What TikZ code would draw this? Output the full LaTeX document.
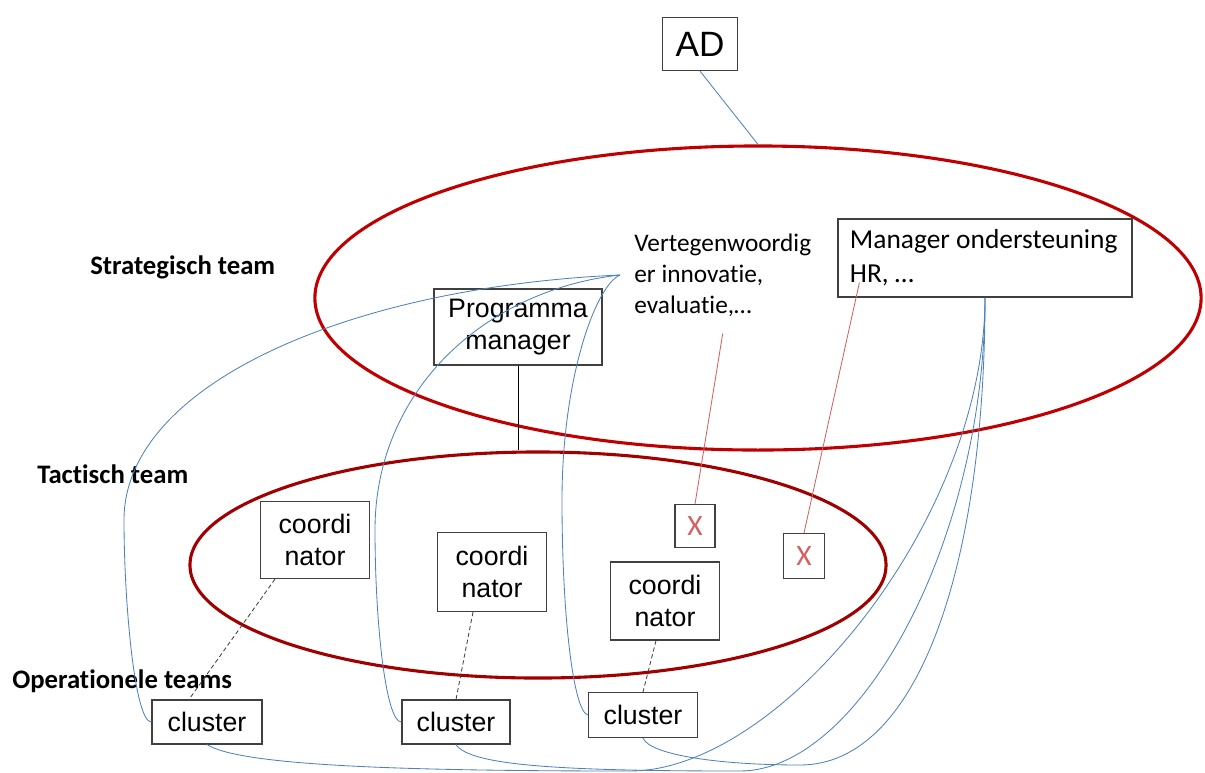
\documentclass[tikz,border=0pt]{standalone}
\usepackage{fontspec}
\setmainfont{Liberation Sans}
\newfontfamily\calibri[Ligatures=NoCommon]{Carlito}
\usetikzlibrary{shapes.geometric,calc}
\definecolor{linkblue}{RGB}{79,129,189}
\definecolor{stratred}{RGB}{192,0,0}
\definecolor{tactred}{RGB}{160,0,0}
\definecolor{thinred}{RGB}{214,96,96}
\begin{document}
\begin{tikzpicture}[x=0.025cm, y=-0.025cm,
    box/.style ={draw=black!75, line width=0.8pt, inner sep=0pt, align=center, font=\fontsize{19}{23}\selectfont},
    team/.style ={ellipse, draw, line width=2.2pt, inner sep=0pt},
    teamname/.style ={anchor=west, inner sep=0pt, font=\calibri\bfseries\fontsize{19}{23}\selectfont},
    link/.style ={draw=linkblue, line width=0.6pt},
    redlink/.style ={draw=thinred, line width=0.6pt},
    dashlink/.style ={draw=black!75, line width=0.6pt, dash pattern=on 3pt off 2pt}]
   \useasboundingbox (0,0) rectangle (1205,772);

   \node[team, draw=stratred, minimum width=22.15cm, minimum height=7.6cm] (S) at (758,298) {};
   \node[team, draw=tactred, minimum width=17.4cm, minimum height=5.65cm] (T) at (538,565) {};

   \node[teamname] (ST) at (90,267) {Strategisch team};
   \node[teamname] (TT) at (37,474) {Tactisch team};
   \node[teamname] (OT) at (12,681) {Operationele teams};

   \node[box, minimum width=1.875cm, minimum height=1.325cm, font=\fontsize{25}{30}\selectfont] (AD) at (700,44) {AD};
   \node[box, minimum width=4.2cm, minimum height=1.9cm] (PM) at (518,327) {Programma\\manager};
   \node[box, minimum width=7.35cm, minimum height=1.95cm, inner xsep=0.3cm, text width=6.75cm, align=flush left,
         font=\calibri\fontsize{19.5}{24}\selectfont] (MO) at (985,258) {Manager ondersteuning\\HR, …};
   \node[anchor=west, inner xsep=10pt, inner ysep=12pt, align=flush left, font=\calibri\fontsize{18}{22}\selectfont] (VI) at (620,275)
         {Vertegenwoordig\\er innovatie,\\evaluatie,…};

   \node[box, minimum width=1.0cm, minimum height=1.075cm, text=thinred, font=\calibri\fontsize{21}{21}\selectfont] (X1) at (695,526) {X};
   \node[box, minimum width=1.025cm, minimum height=1.125cm, text=thinred, font=\calibri\fontsize{21}{21}\selectfont] (X2) at (804,556) {X};

   \node[box, minimum width=2.725cm, minimum height=1.925cm] (C1) at (315,540) {coordi\\nator};
   \node[box, minimum width=2.725cm, minimum height=1.975cm] (C2) at (492,572) {coordi\\nator};
   \node[box, minimum width=2.725cm, minimum height=1.95cm] (C3) at (665,601) {coordi\\nator};

   \node[box, minimum width=2.75cm, minimum height=1.1cm] (K1) at (207,722) {cluster};
   \node[box, minimum width=2.7cm, minimum height=1.1cm] (K2) at (456,722) {cluster};
   \node[box, minimum width=2.725cm, minimum height=1.125cm] (K3) at (643,715) {cluster};

   \draw[link] (AD.south) -- (S.north);
   \draw[line width=0.6pt] (PM.south) -- (PM.south |- T.north);

   \draw[redlink] (VI.south) -- (X1.north);
   \draw[redlink] ($(MO.south west)+(22,-15)$) -- (X2.north);

   \draw[dashlink] ($(C1.south)+(-40,0)$) -- ($(K1.north)+(-18,0)$);
   \draw[dashlink] ($(C2.south)+(-19,0)$) -- (K2.north);
   \draw[dashlink] ($(C3.south)+(-9,0)$) -- (K3.north);

   \draw[link] (VI.west) .. controls +(-270,12) and +(0,-136) .. (124,520) .. controls +(0,80) and +(-17,0) .. (K1.west);
   \draw[link] (VI.west) .. controls +(-135,15) and +(0,-140) .. (375,530) .. controls +(0,90) and +(-16,0) .. (K2.west);
   \draw[link] (VI.west) .. controls +(-25,11) and +(0,-120) .. (562,500) .. controls +(0,120) and +(-14,-3) .. (K3.west);

   \draw[link] (MO.south) .. controls +(0,223) and +(150,0) .. (630,771) .. controls +(-230,0) and +(33,21) .. (K1.south);
   \draw[link] (MO.south) .. controls +(0,243) and +(120,0) .. (740,771) .. controls +(-180,0) and +(14,21) .. (K2.south);
   \draw[link] (MO.south) .. controls +(0,263) and +(120,0) .. (800,765) .. controls +(-80,0) and +(7,17) .. (K3.south);
\end{tikzpicture}
\end{document}
